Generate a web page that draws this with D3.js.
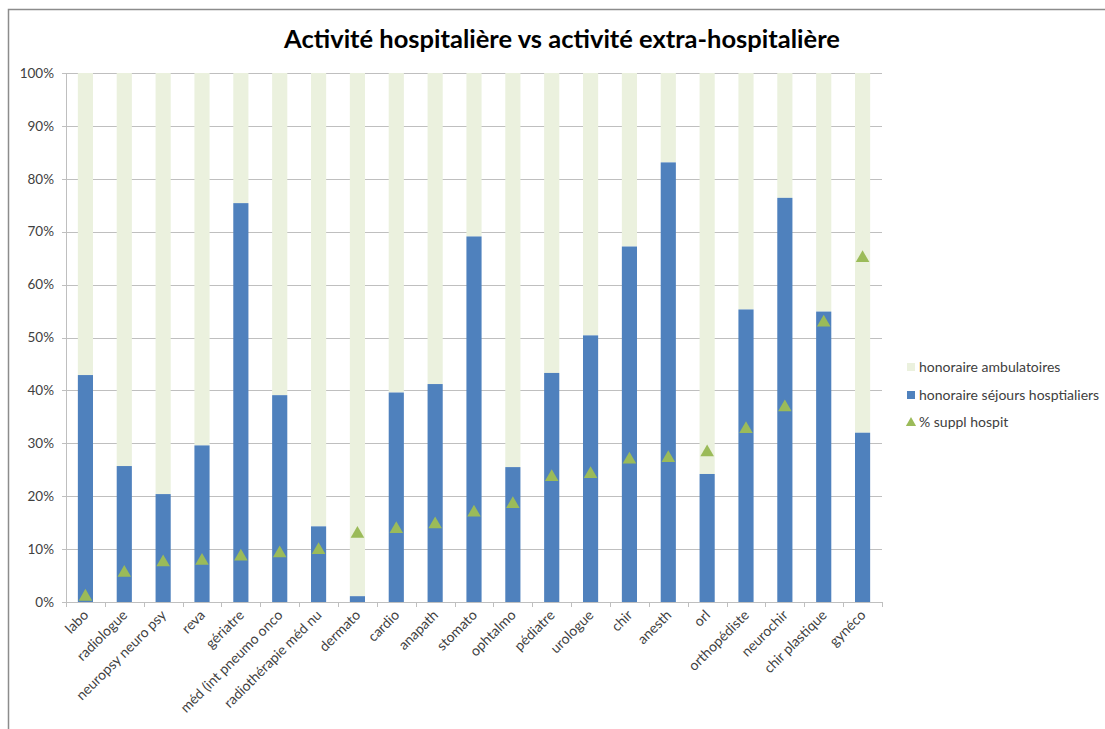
<!DOCTYPE html>
<html><head><meta charset="utf-8">
<script src="https://cdn.jsdelivr.net/npm/d3@7"></script>
<style>body{margin:0;background:#fff;}svg{display:block;font-family:Lato,"Open Sans",sans-serif;}</style>
</head><body>
<svg id="c" width="1105" height="729"></svg>
<script>
const categories = ["labo","radiologue","neuropsy neuro psy","reva","gériatre","méd (int pneumo onco","radiothérapie méd nu","dermato","cardio","anapath","stomato","ophtalmo","pédiatre","urologue","chir","anesth","orl","orthopédiste","neurochir","chir plastique","gynéco"];
const hospitalier = [42.9,25.7,20.4,29.6,75.4,39.1,14.3,1.1,39.6,41.2,69.1,25.5,43.3,50.4,67.2,83.1,24.2,55.3,76.4,54.9,32.0];
const ambulatoire = hospitalier.map(v => 100 - v);
const supplHospit = [1.0,5.5,7.5,7.8,8.6,9.2,9.8,12.9,13.8,14.7,16.9,18.5,23.6,24.2,26.9,27.2,28.3,32.7,36.8,52.8,65.0];
const yTicks = [0,10,20,30,40,50,60,70,80,90,100];
const seriesNames = ["honoraire ambulatoires","honoraire séjours hosptialiers","% suppl hospit"];
const colors = {amb:"#EBF1DE", hosp:"#4F81BD", tri:"#9BBB59"};

const svg = d3.select("#c");
// chart frame (top + left border)
svg.append("path").attr("d","M8.5,729 V9.5 H1105").attr("fill","none").attr("stroke","#8c8c8c").attr("stroke-width",1.5);

svg.append("text").attr("x",562).attr("y",48).attr("text-anchor","middle")
  .attr("font-weight","bold").attr("font-size",25.5).attr("fill","#000")
  .text("Activité hospitalière vs activité extra-hospitalière");

const x0 = 66, x1 = 882, yTop = 73, yBot = 602;
const x = d3.scaleBand().domain(categories).range([x0,x1]).paddingInner(0.61).paddingOuter(0.305);
const y = d3.scaleLinear().domain([0,100]).range([yBot,yTop]);

// gridlines
const g = svg.append("g");
g.selectAll("line.grid").data(yTicks).join("line")
  .attr("x1",x0-4).attr("x2",x1).attr("y1",d=>Math.round(y(d))+0.5).attr("y2",d=>Math.round(y(d))+0.5)
  .attr("stroke","#bfbfbf").attr("stroke-width",1);
// y labels
g.selectAll("text.yl").data(yTicks).join("text")
  .attr("x",54).attr("y",d=>y(d)).attr("dy","0.35em").attr("text-anchor","end")
  .attr("font-size",13.5).attr("fill","#404040").text(d=>d+"%");
// y axis line
g.append("line").attr("x1",x0+0.5).attr("x2",x0+0.5).attr("y1",yTop).attr("y2",yBot).attr("stroke","#bfbfbf");

// bars
const bars = svg.append("g");
bars.selectAll("rect.amb").data(categories).join("rect")
  .attr("x",d=>x(d)).attr("width",x.bandwidth())
  .attr("y",(d,i)=>y(hospitalier[i]+ambulatoire[i])).attr("height",(d,i)=>y(hospitalier[i])-y(hospitalier[i]+ambulatoire[i]))
  .attr("fill",colors.amb);
bars.selectAll("rect.hosp").data(categories).join("rect")
  .attr("x",d=>x(d)).attr("width",x.bandwidth())
  .attr("y",(d,i)=>y(hospitalier[i])).attr("height",(d,i)=>yBot-y(hospitalier[i]))
  .attr("fill",colors.hosp);

// x axis line + ticks
const step = x.step();
svg.append("line").attr("x1",x0).attr("x2",x1).attr("y1",yBot+0.5).attr("y2",yBot+0.5).attr("stroke","#bfbfbf");
const bounds = d3.range(categories.length+1).map(i=>x0+i*step);
svg.selectAll("line.xt").data(bounds).join("line")
  .attr("x1",d=>Math.round(d)+0.5).attr("x2",d=>Math.round(d)+0.5).attr("y1",yBot).attr("y2",yBot+5).attr("stroke","#bfbfbf");

// triangles
const tri = d3.symbol().type(d3.symbolTriangle).size(80);
svg.selectAll("path.tri").data(categories).join("path")
  .attr("d",tri).attr("transform",(d,i)=>`translate(${x(d)+x.bandwidth()/2},${y(supplHospit[i])})`)
  .attr("fill",colors.tri);

// x labels
svg.selectAll("text.xl").data(categories).join("text")
  .attr("transform",d=>`translate(${x(d)+x.bandwidth()/2+4},${yBot+14}) rotate(-45)`)
  .attr("text-anchor","end").attr("font-size",14).attr("fill","#404040").text(d=>d);

// legend
const lg = svg.append("g");
const ly = [367,395,422];
lg.append("rect").attr("x",907).attr("y",ly[0]-4).attr("width",8).attr("height",8).attr("fill",colors.amb);
lg.append("rect").attr("x",907).attr("y",ly[1]-4).attr("width",8).attr("height",8).attr("fill",colors.hosp);
lg.append("path").attr("d",d3.symbol().type(d3.symbolTriangle).size(45)).attr("transform",`translate(911,${ly[2]+1})`).attr("fill",colors.tri);
lg.selectAll("text").data(seriesNames).join("text")
  .attr("x",919).attr("y",(d,i)=>ly[i]).attr("dy","0.35em").attr("font-size",14).attr("fill","#404040").text(d=>d);
</script>
</body></html>
